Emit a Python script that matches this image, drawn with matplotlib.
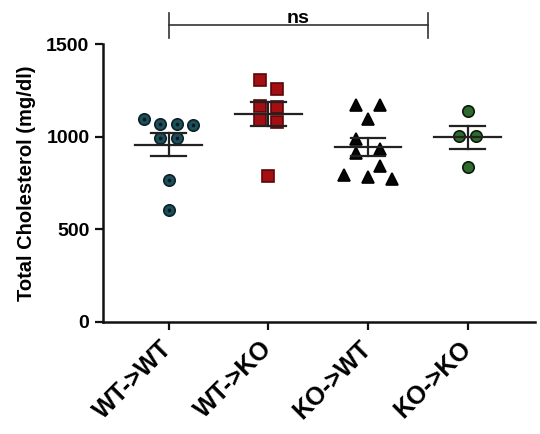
import numpy as np
import matplotlib.pyplot as plt

plt.rcParams["font.family"] = ["Liberation Sans", "DejaVu Sans"]
plt.rcParams["font.weight"] = "bold"

# total cholesterol per mouse, mg/dl
groups = ["WT->WT", "WT->KO", "KO->WT", "KO->KO"]
wt_wt = [1096, 1069, 1069, 1065, 996, 996, 768, 602]
wt_ko = [1308, 1258, 1169, 1161, 1092, 1083, 789]
ko_wt = [1173, 1173, 1096, 989, 934, 912, 845, 795, 785, 773]
ko_ko = [1141, 1007, 1007, 839]
y_ticks = [0, 500, 1000, 1500]
y_label = "Total Cholesterol (mg/dl)"

# comparison bracket: group span and label
bracket_span = (0, 2.6)
bracket_y = 1605
sig_label = "ns"

# marker styles per group
markers = ["o", "s", "^", "o"]
faces = ["#1d4f5b", "#a30f12", "#050505", "#2f6b2c"]
edges = ["#0b2228", "#5c0608", "#000000", "#0a1a08"]
sizes = [8.2, 8.6, 8.6, 8.2]
steps = [0.165, 0.17, 0.24, 0.17]


def spread(values, step, row_height=70):
    # put points of similar value side by side, centred on the group
    values = np.asarray(values, dtype=float)
    order = np.argsort(-values, kind="stable")
    rows = []
    for i in order:
        if rows and values[rows[-1][0]] - values[i] <= row_height:
            rows[-1].append(i)
        else:
            rows.append([i])
    offsets = np.zeros(len(values))
    for row in rows:
        n = len(row)
        for k, i in enumerate(row):
            offsets[i] = (k - (n - 1) / 2) * step
    return offsets


fig = plt.figure(figsize=(5.4, 4.34), dpi=100)
ax = fig.add_axes([0.190, 0.2588, 0.801, 0.6387])

data = [wt_wt, wt_ko, ko_wt, ko_ko]
for i, vals in enumerate(data):
    vals = np.asarray(vals, dtype=float)
    xs = i + spread(vals, steps[i])
    ax.plot(xs, vals, linestyle="none", marker=markers[i], ms=sizes[i],
            mfc=faces[i], mec=edges[i], mew=1.2, zorder=3)
    if i == 0:
        ax.plot(xs, vals, linestyle="none", marker="o", ms=1.6,
                color="#07171b", zorder=4)

    # mean with SEM
    mean = vals.mean()
    sem = vals.std(ddof=1) / np.sqrt(len(vals))
    ax.plot([i - 0.335, i + 0.335], [mean, mean], color="#222222", lw=1.6, zorder=5)
    ax.plot([i, i], [mean - sem, mean + sem], color="#222222", lw=1.6, zorder=5)
    for v in (mean - sem, mean + sem):
        ax.plot([i - 0.175, i + 0.175], [v, v], color="#222222", lw=1.6, zorder=5)

ax.set_xlim(-0.663, 3.678)
ax.set_ylim(0, 1500)
ax.set_yticks(y_ticks)
ax.set_xticks(range(len(groups)))
ax.set_xticklabels(groups, rotation=45, ha="right", va="center",
                   rotation_mode="anchor", fontsize=18, fontweight="bold")
ax.tick_params(axis="x", pad=11)
ax.tick_params(axis="y", labelsize=14, pad=4)
ax.tick_params(width=1.6, length=5.5, color="#111111")
ax.set_ylabel(y_label, fontsize=14.5, fontweight="bold", labelpad=7)

for side in ("top", "right"):
    ax.spines[side].set_visible(False)
for side in ("left", "bottom"):
    ax.spines[side].set_linewidth(1.8)
    ax.spines[side].set_color("#111111")

# significance bracket above the plot area
x0, x1 = bracket_span
ax.plot([x0, x1], [bracket_y, bracket_y], color="#333333", lw=1.2, clip_on=False)
for x in (x0, x1):
    ax.plot([x, x], [bracket_y - 70, bracket_y + 65], color="#333333", lw=1.2, clip_on=False)
ax.text((x0 + x1) / 2, bracket_y + 12, sig_label, ha="center", va="baseline",
        fontsize=14, fontweight="bold")

fig.savefig("out.png", dpi=100)
